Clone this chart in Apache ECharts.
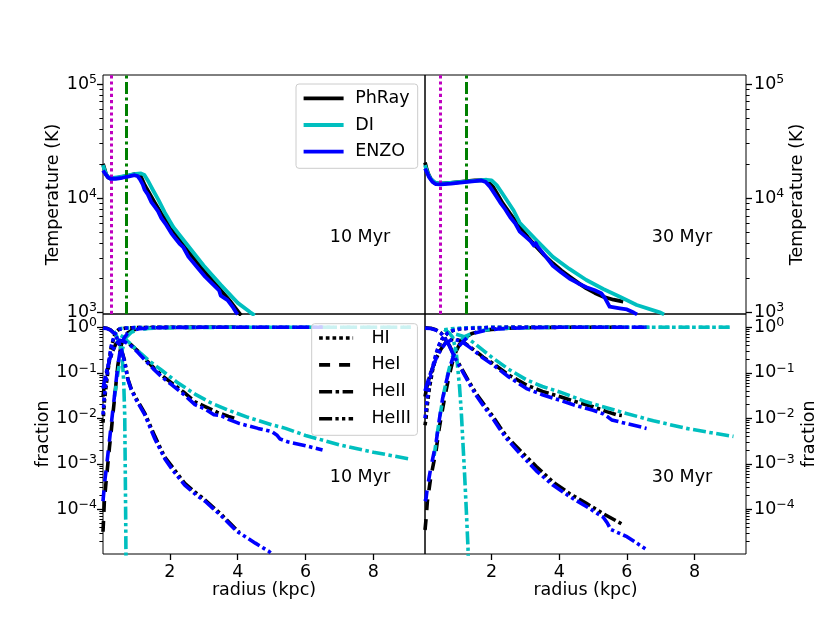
<!DOCTYPE html>
<html><head><meta charset="utf-8">
<script src="https://cdn.jsdelivr.net/npm/echarts@6/dist/echarts.min.js"></script>
<style>html,body{margin:0;padding:0;background:#fff}#c{width:830px;height:623px}</style>
</head><body><div id="c"></div>
<script>
// ---------------- DATA ----------------
const codes = ['PhRay', 'DI', 'ENZO'];
const species = ['HI', 'HeI', 'HeII', 'HeIII'];
const timeLabels = ['10 Myr', '30 Myr'];
const xTicks = [2, 4, 6, 8];
const tempTicks = [1e3, 1e4, 1e5];
const tempMinor = [2000,3000,4000,5000,6000,7000,8000,9000,20000,30000,40000,50000,60000,70000,80000,90000];
const fracTicks = [1e-4, 1e-3, 1e-2, 1e-1, 1];
const fracMinor = [2e-5,3e-5,4e-5,5e-5,6e-5,7e-5,8e-5,9e-5,2e-4,3e-4,4e-4,5e-4,6e-4,7e-4,8e-4,9e-4,
  2e-3,3e-3,4e-3,5e-3,6e-3,7e-3,8e-3,9e-3,0.02,0.03,0.04,0.05,0.06,0.07,0.08,0.09,0.2,0.3,0.4,0.5,0.6,0.7,0.8,0.9];
const vlines10 = [0.27, 0.715];
const vlines30 = [0.49, 1.25];

// Temperature (K) vs radius (kpc)
const T10_PhRay = [[0.03,20000],[0.07,18300],[0.12,16200],[0.18,15200],[0.25,14900],[0.4,15000],[0.6,15400],[0.8,15800],[0.96,16300],[1.08,16200],[1.16,15200],[1.26,13000],[1.4,11000],[1.56,9100],[1.75,7300],[2.05,5430],[2.3,4250],[2.55,3390],[2.8,2750],[3.04,2240],[3.3,1830],[3.54,1515],[3.8,1230],[4.03,1000],[4.1,940]];
const T10_DI = [[0.03,19500],[0.08,17500],[0.15,15600],[0.25,15000],[0.5,15300],[0.8,15900],[1.0,16300],[1.15,16500],[1.25,16000],[1.35,14300],[1.5,11800],[1.66,9700],[1.85,7500],[2.1,5600],[2.5,3950],[3.0,2560],[3.5,1740],[4.0,1210],[4.37,1000],[4.5,940]];
const T10_ENZO = [[0.03,17500],[0.1,16300],[0.18,15200],[0.25,14800],[0.4,14800],[0.6,15100],[0.8,15500],[0.96,15900],[1.05,15600],[1.12,14600],[1.2,13200],[1.26,11800],[1.35,10800],[1.45,9300],[1.5,9500],[1.56,8400],[1.65,7700],[1.75,6700],[1.9,5800],[2.05,4900],[2.2,4300],[2.3,3950],[2.4,3700],[2.55,3060],[2.8,2500],[3.04,2050],[3.3,1720],[3.45,1560],[3.5,1400],[3.54,1450],[3.7,1280],[3.85,1120],[3.95,1000],[4.0,960]];
const T30_PhRay = [[0.03,20500],[0.07,18500],[0.12,16500],[0.2,14800],[0.3,13700],[0.46,13400],[0.8,13600],[1.2,14000],[1.5,14300],[1.79,14400],[1.92,13700],[2.04,12600],[2.18,10700],[2.33,9000],[2.55,7300],[2.83,5620],[3.07,4550],[3.32,3750],[3.56,3150],[3.81,2690],[4.06,2330],[4.31,2050],[4.55,1820],[4.8,1620],[5.05,1480],[5.3,1370],[5.6,1290],[5.89,1240]];
const T30_DI = [[0.03,19500],[0.1,16800],[0.2,14700],[0.35,13600],[0.6,13500],[1.0,13800],[1.5,14200],[1.85,14500],[2.0,14300],[2.15,13000],[2.3,11200],[2.45,9600],[2.65,7800],[2.83,6100],[3.05,5200],[3.32,4300],[3.81,3060],[4.3,2400],[4.8,1920],[5.3,1600],[5.79,1370],[6.29,1160],[6.97,1000],[7.1,960]];
const T30_ENZO = [[0.03,18200],[0.08,17000],[0.15,15300],[0.25,13900],[0.35,13300],[0.5,13200],[0.8,13400],[1.2,13800],[1.5,14100],[1.7,14300],[1.82,13900],[1.95,12600],[2.1,10800],[2.25,9200],[2.4,8000],[2.55,6800],[2.7,6000],[2.83,5100],[3.0,4600],[3.15,4200],[3.25,3850],[3.3,4050],[3.35,3800],[3.5,3350],[3.81,2560],[4.05,2250],[4.3,1980],[4.55,1800],[4.8,1660],[5.05,1560],[5.24,1470],[5.35,1330],[5.49,1120],[5.79,1085],[6.0,1060],[6.2,995],[6.3,960]];

// Species fractions vs radius (kpc), 10 Myr
const f10_PhRay_HI = [[0.03,0.008],[0.07,0.023],[0.12,0.05],[0.17,0.1],[0.22,0.2],[0.27,0.35],[0.35,0.6],[0.42,0.8],[0.5,0.9],[0.7,0.96],[1.0,0.985],[1.5,0.995],[2.0,1],[4.0,1]];
const f10_PhRay_HeI = [[0.03,3.2e-5],[0.07,1.5e-4],[0.12,4e-4],[0.17,9.4e-4],[0.22,2.3e-3],[0.27,5e-3],[0.32,1.2e-2],[0.37,2.7e-2],[0.42,6.5e-2],[0.47,0.15],[0.52,0.26],[0.57,0.41],[0.65,0.6],[0.75,0.75],[0.9,0.87],[1.1,0.93],[1.5,0.975],[2.0,0.99],[3.0,1],[4.0,1]];
const f10_PhRay_HeII = [[0.03,0.03],[0.08,0.06],[0.15,0.11],[0.22,0.18],[0.3,0.28],[0.4,0.42],[0.52,0.53],[0.65,0.5],[0.86,0.41],[1.06,0.3],[1.3,0.19],[1.5,0.135],[1.75,0.089],[2.05,0.06],[2.4,0.038],[2.74,0.023],[3.04,0.018],[3.4,0.0135],[3.73,0.011],[3.95,0.0098]];
const f10_PhRay_HeIII = [[0.03,0.98],[0.15,0.95],[0.25,0.88],[0.35,0.75],[0.42,0.63],[0.47,0.53],[0.57,0.33],[0.67,0.18],[0.76,0.075],[0.86,0.045],[1.0,0.028],[1.26,0.013],[1.56,0.004],[1.85,0.0014],[2.1,8e-4],[2.44,3.7e-4],[2.8,2.2e-4],[3.04,1.6e-4],[3.53,7.5e-5],[3.97,3.5e-5],[4.05,3.1e-5]];
const f10_DI_HI = [[0.5,0.93],[0.6,0.95],[1.0,0.985],[2.0,1],[9.1,1]];
const f10_DI_HeI = [[0.37,0.03],[0.45,0.08],[0.52,0.17],[0.6,0.33],[0.71,0.6],[0.86,0.77],[1.0,0.86],[1.36,0.94],[1.8,0.975],[2.5,0.99],[3.5,1],[9.1,1]];
const f10_DI_HeII = [[0.55,0.66],[0.65,0.6],[0.75,0.5],[0.86,0.42],[1.0,0.33],[1.16,0.26],[1.4,0.18],[1.75,0.115],[2.2,0.063],[2.74,0.034],[3.2,0.022],[3.73,0.015],[4.3,0.0105],[5.0,0.0072],[5.41,0.006],[6.0,0.0042],[7.0,0.0026],[8.0,0.0018],[9.1,0.00126]];
const f10_DI_HeIII = [[0.35,0.82],[0.42,0.68],[0.47,0.53],[0.52,0.42],[0.57,0.29],[0.61,0.15],[0.64,0.064],[0.67,0.012],[0.685,9e-4],[0.7,5e-5],[0.715,1e-6]];
const f10_ENZO_HI = [[0.03,0.012],[0.07,0.03],[0.12,0.065],[0.17,0.12],[0.22,0.22],[0.27,0.38],[0.35,0.62],[0.42,0.8],[0.5,0.9],[0.7,0.96],[1.0,0.985],[1.5,0.995],[2.0,1],[6.5,1]];
const f10_ENZO_HeI = [[0.03,1.5e-4],[0.08,4e-4],[0.12,7e-4],[0.17,1.5e-3],[0.22,3.2e-3],[0.27,7e-3],[0.32,1.5e-2],[0.37,3.2e-2],[0.42,7e-2],[0.47,0.15],[0.52,0.26],[0.57,0.4],[0.65,0.58],[0.75,0.73],[0.9,0.86],[1.1,0.93],[1.5,0.975],[2.0,0.99],[3.0,1],[6.5,1]];
const f10_ENZO_HeII = [[0.03,0.045],[0.08,0.07],[0.15,0.12],[0.22,0.19],[0.3,0.29],[0.4,0.42],[0.52,0.52],[0.65,0.49],[0.86,0.39],[1.06,0.28],[1.3,0.18],[1.5,0.125],[1.75,0.083],[2.05,0.055],[2.4,0.034],[2.74,0.02],[3.04,0.016],[3.3,0.012],[3.5,0.0115],[3.73,0.0095],[4.02,0.0078],[4.6,0.006],[5.0,0.0051],[5.15,0.0043],[5.25,0.0035],[5.5,0.003],[6.0,0.0025],[6.5,0.002]];
const f10_ENZO_HeIII = [[0.03,0.96],[0.15,0.94],[0.25,0.87],[0.35,0.74],[0.42,0.62],[0.47,0.52],[0.57,0.32],[0.67,0.17],[0.76,0.072],[0.86,0.043],[1.0,0.026],[1.26,0.012],[1.56,0.0035],[1.85,0.0013],[2.1,7e-4],[2.44,3.4e-4],[2.8,2e-4],[3.04,1.5e-4],[3.53,7e-5],[3.97,3.3e-5],[4.52,1.8e-5],[4.91,1.2e-5],[5.0,1.05e-5]];

// Species fractions vs radius (kpc), 30 Myr
const f30_PhRay_HI = [[0.03,0.007],[0.06,0.01],[0.1,0.02],[0.16,0.046],[0.25,0.11],[0.36,0.25],[0.45,0.4],[0.55,0.57],[0.7,0.75],[0.85,0.85],[1.05,0.92],[1.3,0.95],[2.0,0.99],[3.0,1],[5.9,1]];
const f30_PhRay_HeI = [[0.03,3.5e-5],[0.06,6e-5],[0.1,1.5e-4],[0.2,5e-4],[0.36,0.002],[0.45,0.006],[0.55,0.016],[0.65,0.04],[0.75,0.09],[0.85,0.18],[0.95,0.3],[1.05,0.42],[1.2,0.58],[1.4,0.72],[1.64,0.82],[2.0,0.9],[2.5,0.95],[3.0,0.98],[4.0,1],[5.9,1]];
const f30_PhRay_HeII = [[0.03,0.03],[0.1,0.055],[0.2,0.1],[0.35,0.2],[0.5,0.33],[0.65,0.47],[0.85,0.55],[1.0,0.53],[1.15,0.48],[1.5,0.31],[1.75,0.22],[2.04,0.16],[2.5,0.09],[3.03,0.054],[3.5,0.039],[4.01,0.03],[4.5,0.023],[5.0,0.018],[5.4,0.014],[5.69,0.012],[5.85,0.0115]];
const f30_PhRay_HeIII = [[0.03,0.97],[0.2,0.95],[0.35,0.88],[0.5,0.75],[0.6,0.62],[0.65,0.53],[0.75,0.4],[0.85,0.28],[0.95,0.2],[1.05,0.15],[1.3,0.07],[1.54,0.035],[1.8,0.019],[2.04,0.011],[2.24,0.0065],[2.44,0.004],[2.83,0.002],[3.32,8.7e-4],[3.81,4e-4],[4.31,2.2e-4],[4.8,1.35e-4],[5.3,8e-5],[5.84,4.8e-5]];
const f30_DI_HI = [[0.6,0.88],[0.8,0.93],[1.2,0.975],[2.0,0.995],[3.0,1],[9.1,1]];
const f30_DI_HeI = [[0.3,0.0015],[0.4,0.005],[0.5,0.015],[0.6,0.04],[0.7,0.09],[0.8,0.18],[0.95,0.38],[1.05,0.48],[1.2,0.62],[1.45,0.76],[1.8,0.87],[2.3,0.94],[3.0,0.98],[4.0,1],[9.1,1]];
const f30_DI_HeII = [[0.95,0.7],[1.1,0.65],[1.25,0.6],[1.5,0.44],[1.75,0.31],[2.04,0.21],[2.5,0.12],[3.03,0.07],[3.5,0.05],[4.01,0.038],[4.8,0.023],[5.79,0.014],[6.78,0.0088],[7.76,0.006],[8.5,0.0048],[9.15,0.004]];
const f30_DI_HeIII = [[0.6,0.9],[0.75,0.75],[0.85,0.6],[0.95,0.3],[1.05,0.05],[1.1,0.015],[1.15,0.003],[1.2,6e-4],[1.25,1e-4],[1.3,1.5e-5],[1.32,5e-6]];
const f30_ENZO_HI = [[0.03,0.01],[0.06,0.015],[0.1,0.028],[0.16,0.06],[0.25,0.13],[0.36,0.27],[0.45,0.42],[0.55,0.58],[0.7,0.75],[0.85,0.85],[1.05,0.92],[1.3,0.95],[2.0,0.99],[3.0,1],[6.58,1]];
const f30_ENZO_HeI = [[0.03,1.5e-4],[0.06,1.7e-4],[0.1,3e-4],[0.2,8e-4],[0.36,0.003],[0.45,0.009],[0.55,0.027],[0.65,0.06],[0.75,0.12],[0.85,0.21],[0.95,0.33],[1.15,0.48],[1.3,0.62],[1.5,0.75],[1.8,0.85],[2.2,0.92],[3.0,0.98],[4.0,1],[6.58,1]];
const f30_ENZO_HeII = [[0.03,0.04],[0.1,0.06],[0.2,0.1],[0.35,0.2],[0.5,0.33],[0.65,0.46],[0.85,0.54],[1.0,0.52],[1.15,0.47],[1.5,0.3],[1.75,0.21],[2.04,0.15],[2.5,0.082],[3.03,0.045],[3.5,0.033],[4.01,0.025],[4.5,0.019],[5.0,0.015],[5.3,0.0125],[5.45,0.0105],[5.55,0.0092],[6.0,0.0076],[6.58,0.006]];
const f30_ENZO_HeIII = [[0.03,0.96],[0.2,0.94],[0.35,0.87],[0.5,0.74],[0.6,0.61],[0.65,0.52],[0.75,0.39],[0.85,0.27],[0.95,0.19],[1.05,0.14],[1.3,0.065],[1.54,0.032],[1.8,0.017],[2.04,0.0098],[2.24,0.0058],[2.44,0.0036],[2.83,0.0017],[3.32,7e-4],[3.81,3.4e-4],[4.31,1.9e-4],[4.8,1.15e-4],[5.3,6.7e-5],[5.42,5e-5],[5.52,3.6e-5],[6.0,2.5e-5],[6.58,1.3e-5]];

// ---------------- TABLES BUILT FROM THE DATA ----------------
const tempData = [
  {PhRay: T10_PhRay, DI: T10_DI, ENZO: T10_ENZO},
  {PhRay: T30_PhRay, DI: T30_DI, ENZO: T30_ENZO}
];
const fracData = [
  {PhRay: {HI: f10_PhRay_HI, HeI: f10_PhRay_HeI, HeII: f10_PhRay_HeII, HeIII: f10_PhRay_HeIII},
   DI:    {HI: f10_DI_HI,    HeI: f10_DI_HeI,    HeII: f10_DI_HeII,    HeIII: f10_DI_HeIII},
   ENZO:  {HI: f10_ENZO_HI,  HeI: f10_ENZO_HeI,  HeII: f10_ENZO_HeII,  HeIII: f10_ENZO_HeIII}},
  {PhRay: {HI: f30_PhRay_HI, HeI: f30_PhRay_HeI, HeII: f30_PhRay_HeII, HeIII: f30_PhRay_HeIII},
   DI:    {HI: f30_DI_HI,    HeI: f30_DI_HeI,    HeII: f30_DI_HeII,    HeIII: f30_DI_HeIII},
   ENZO:  {HI: f30_ENZO_HI,  HeI: f30_ENZO_HeI,  HeII: f30_ENZO_HeII,  HeIII: f30_ENZO_HeIII}}
];
const vlines = [vlines10, vlines30];

// ---------------- STYLE ----------------
const FONT = 'DejaVu Sans';
const FS = 17.5;
const COLORS = {PhRay: '#000000', DI: '#00bfbf', ENZO: '#0000ff'};
const DASH = {HI: [3.7, 3], HeI: [11, 9], HeII: [13, 3.5, 3.5, 3.5], HeIII: [13, 3.3, 3.3, 3.3, 3.3, 3.3]};
const LW_T = 3.8, LW_F = 3.6;

function pow10Label(v) {
  const e = Math.round(Math.log10(v));
  if (Math.abs(Math.log10(v) - e) > 1e-6) return '';
  return '{b|10}{s|' + String(e).replace('-', '\u2212') + '}';
}
const labelRich = {
  b: {fontSize: FS, fontFamily: FONT, color: '#000', lineHeight: 22},
  s: {fontSize: 12.5, fontFamily: FONT, color: '#000', lineHeight: 12, verticalAlign: 'top'}
};

const grids = [
  {left: 103, top: 75, width: 322, height: 239},
  {left: 425, top: 75, width: 321, height: 239},
  {left: 103, top: 314, width: 322, height: 240},
  {left: 425, top: 314, width: 321, height: 240}
].map(g => Object.assign({show: true, borderColor: '#000', borderWidth: 1, backgroundColor: 'rgba(0,0,0,0)', containLabel: false, outerBoundsMode: 'none'}, g));

const axisText = {color: '#000', fontFamily: FONT, fontSize: FS};
const tickStyle = {color: '#000', width: 1.3};

const xAxes = [0, 1, 2, 3].map(i => {
  const bottom = i >= 2;
  return {
    type: 'value', gridIndex: i, min: 0.03, max: 9.52,
    axisLine: {show: false}, splitLine: {show: false},
    axisTick: {show: bottom, length: 6, lineStyle: tickStyle, customValues: xTicks},
    axisLabel: {show: bottom, margin: 9, customValues: xTicks, ...axisText},
    name: bottom ? 'radius (kpc)' : '', nameLocation: 'middle', nameGap: 27,
    nameTextStyle: axisText
  };
});

function yAxis(i, isTemp, right, minor) {
  return {
    type: 'log', logBase: 10, gridIndex: i,
    min: isTemp ? 967 : 1.04e-5, max: isTemp ? 1.2e5 : 1.96,
    position: right ? 'right' : 'left',
    axisLine: {show: false}, splitLine: {show: false}, minorTick: {show: false},
    axisTick: {show: true, length: minor ? 3.6 : 6, lineStyle: {color: '#000', width: minor ? 1.0 : 1.3},
      customValues: minor ? (isTemp ? tempMinor : fracMinor) : (isTemp ? tempTicks : fracTicks)},
    axisLabel: {show: !minor, margin: right ? 8 : 6, customValues: isTemp ? tempTicks : fracTicks,
      formatter: pow10Label, rich: labelRich, ...axisText},
    name: minor ? '' : (isTemp ? 'Temperature (K)' : 'fraction'),
    nameLocation: 'middle', nameRotate: 90,
    nameGap: isTemp ? 39 : (right ? 54 : 51),
    nameTextStyle: axisText
  };
}
const yAxes = [
  yAxis(0, true, false, false), yAxis(1, true, true, false),
  yAxis(2, false, false, false), yAxis(3, false, true, false),
  yAxis(0, true, false, true), yAxis(1, true, true, true),
  yAxis(2, false, false, true), yAxis(3, false, true, true)
];

const series = [];
function addLine(name, data, color, dash, width, idx, z) {
  series.push({
    type: 'line', name: name, data: data, xAxisIndex: idx, yAxisIndex: idx,
    symbol: 'none', showSymbol: false, silent: true, animation: false, clip: true, z: z,
    lineStyle: {color: color, width: width, type: dash, cap: 'butt', join: 'round'},
    itemStyle: {color: color}
  });
}
// temperature panels
[0, 1].forEach(p => {
  codes.forEach((c, k) => addLine(c, tempData[p][c], COLORS[c], 'solid', LW_T, p, 3 + k));
  // vertical reference lines (attached to a data-less helper series)
  series.push({
    type: 'line', name: 'ref' + p, data: [], xAxisIndex: p, yAxisIndex: p, silent: true, animation: false, z: 2,
    markLine: {
      silent: true, symbol: ['none', 'none'], label: {show: false}, animation: false,
      data: [
        {xAxis: vlines[p][0], lineStyle: {color: '#bf00bf', width: 3, type: [3.2, 3], cap: 'butt'}},
        {xAxis: vlines[p][1], lineStyle: {color: '#008000', width: 3, type: [12, 3.5, 3, 3.5], cap: 'butt'}}
      ]
    }
  });
});
// fraction panels
[0, 1].forEach(p => {
  codes.forEach((c, k) => species.forEach(s =>
    addLine(c + ' ' + s + ' ' + timeLabels[p], fracData[p][c][s], COLORS[c], DASH[s], LW_F, 2 + p, 3 + k)));
});
// legend-only helper series for the species line styles
species.forEach(s => addLine(s, [], '#000', DASH[s], LW_F, 2, 1));

const legendCommon = {
  orient: 'vertical', selectedMode: false,
  backgroundColor: 'rgba(255,255,255,0.8)', borderColor: '#cccccc', borderWidth: 1, borderRadius: 3,
  itemHeight: 14, lineStyle: {width: 'inherit'}, itemStyle: {opacity: 0, borderWidth: 0, color: 'rgba(0,0,0,0)'}, z: 20,
  textStyle: {color: '#000', fontFamily: FONT, fontSize: FS, lineHeight: 20}
};

const option = {
  animation: false,
  textStyle: {fontFamily: FONT},
  grid: grids, xAxis: xAxes, yAxis: yAxes, series: series,
  legend: [
    Object.assign({}, legendCommon, {
      left: 296, top: 84, padding: [4.3, 8, 6.6, 5.7], itemWidth: 40, itemGap: 6.7,
      data: codes,
      textStyle: Object.assign({}, legendCommon.textStyle, {padding: [0, 0, 0, 6.6]})
    }),
    Object.assign({}, legendCommon, {
      left: 311.7, top: 323.7, padding: [4.3, 6.6, 6.6, 5.6], itemWidth: 34, itemGap: 6.9,
      data: species,
      textStyle: Object.assign({}, legendCommon.textStyle, {padding: [0, 0, 0, 13.3]})
    })
  ],
  graphic: [
    {x: 360, y: 237, t: 0}, {x: 682, y: 237, t: 1},
    {x: 360, y: 477, t: 0}, {x: 682, y: 477, t: 1}
  ].map(o => ({
    type: 'text', x: o.x, y: o.y, z: 30, silent: true,
    style: {text: timeLabels[o.t], fill: '#000', font: FS + 'px "' + FONT + '"',
      textAlign: 'center', textVerticalAlign: 'middle', verticalAlign: 'middle'}
  }))
};

const chart = echarts.init(document.getElementById('c'), null, {renderer: 'canvas'});
chart.setOption(option);
</script>
</body></html>
